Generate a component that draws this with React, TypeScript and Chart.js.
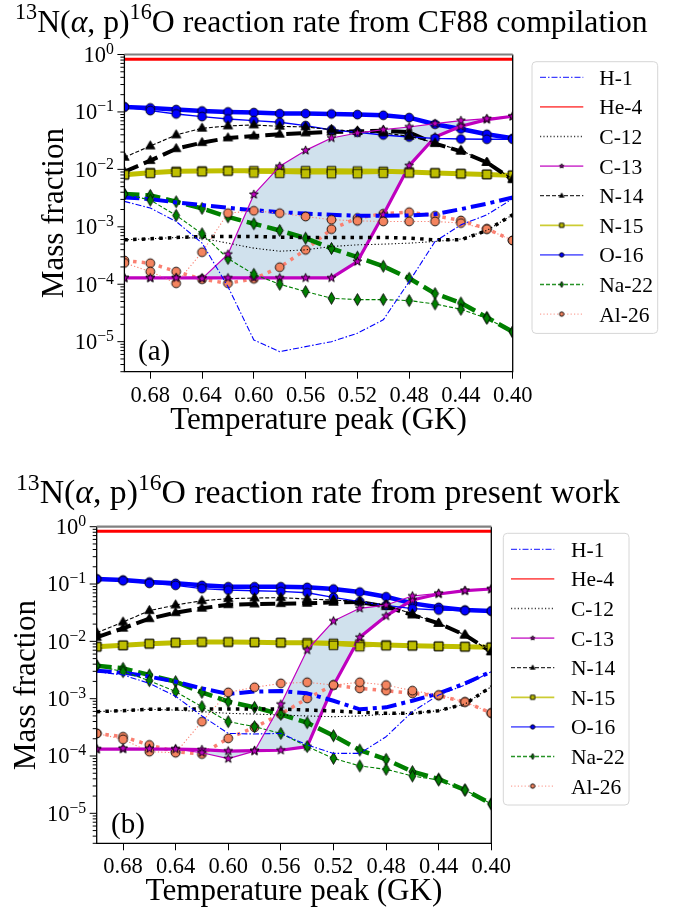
import React, { useEffect, useRef } from 'react';
import { Chart, registerables } from 'chart.js';

Chart.register(...registerables);

// ---------------- data ----------------
const temperatures = [0.70, 0.68, 0.66, 0.64, 0.62, 0.60, 0.58, 0.56, 0.54, 0.52, 0.50, 0.48, 0.46, 0.44, 0.42, 0.40];
const xTickValues = [0.68, 0.64, 0.60, 0.56, 0.52, 0.48, 0.44, 0.40];
const yTickExponents = [0, -1, -2, -3, -4, -5];
const speciesNames = ['H-1', 'He-4', 'C-12', 'C-13', 'N-14', 'N-15', 'O-16', 'Na-22', 'Al-26'];

// panel (a): CF88 rate
const a_H1_thin = [2.77e-3, 2.12e-3, 1.24e-3, 5.2e-4, 9.1e-5, 1.07e-5, 6.7e-6, 8.2e-6, 1.0e-5, 1.4e-5, 2.4e-5, 1.11e-4, 5.55e-4, 1.08e-3, 1.62e-3, 3.08e-3];
const a_H1_thick = [3.25e-3, 3.04e-3, 2.66e-3, 2.39e-3, 2.14e-3, 1.95e-3, 1.8e-3, 1.7e-3, 1.62e-3, 1.56e-3, 1.56e-3, 1.58e-3, 1.66e-3, 2.03e-3, 2.52e-3, 3.25e-3];
const a_He4_thin = [0.83, 0.83, 0.83, 0.83, 0.83, 0.83, 0.83, 0.83, 0.83, 0.83, 0.83, 0.83, 0.83, 0.83, 0.83, 0.83];
const a_He4_thick = [0.83, 0.83, 0.83, 0.83, 0.83, 0.83, 0.83, 0.83, 0.83, 0.83, 0.83, 0.83, 0.83, 0.83, 0.83, 0.83];
const a_C12_thin = [5.93e-4, 6.18e-4, 6.52e-4, 6.34e-4, 5.19e-4, 4.25e-4, 3.76e-4, 3.97e-4, 4.54e-4, 4.85e-4, 4.99e-4, 5.19e-4, 5.55e-4, 6.1e-4, 8.63e-4, 1.62e-3];
const a_C12_thick = [5.93e-4, 6.18e-4, 6.52e-4, 6.78e-4, 6.78e-4, 6.78e-4, 6.6e-4, 6.52e-4, 6.52e-4, 6.52e-4, 6.52e-4, 6.34e-4, 5.93e-4, 5.93e-4, 8.63e-4, 1.62e-3];
const a_C13_thin = [1.29e-4, 1.29e-4, 1.29e-4, 1.25e-4, 3.33e-4, 3.66e-3, 1.13e-2, 2.14e-2, 3.52e-2, 4.3e-2, 4.92e-2, 5.47e-2, 6.26e-2, 7.06e-2, 7.65e-2, 8.4e-2];
const a_C13_thick = [1.29e-4, 1.29e-4, 1.29e-4, 1.29e-4, 1.29e-4, 1.29e-4, 1.29e-4, 1.29e-4, 1.29e-4, 2.48e-4, 1.62e-3, 1.16e-2, 3.66e-2, 5.62e-2, 7.35e-2, 8.4e-2];
const a_N14_thin = [0.0162, 0.0255, 0.0397, 0.0519, 0.057, 0.0593, 0.0562, 0.0547, 0.0492, 0.046, 0.043, 0.0377, 0.0288, 0.0214, 0.0132, 0.0068];
const a_N14_thick = [0.0091, 0.0142, 0.0229, 0.0292, 0.0352, 0.0381, 0.0408, 0.043, 0.0448, 0.046, 0.0472, 0.0442, 0.0281, 0.0206, 0.0132, 0.0066];
const a_N15_thin = [0.00807, 0.00852, 0.00887, 0.0091, 0.00935, 0.00863, 0.00852, 0.0084, 0.0084, 0.0084, 0.00852, 0.00863, 0.00863, 0.0084, 0.00818, 0.00786];
const a_N15_thick = [0.00807, 0.00875, 0.00923, 0.00935, 0.00948, 0.00948, 0.00948, 0.00948, 0.00948, 0.00935, 0.00923, 0.00898, 0.00863, 0.0084, 0.00818, 0.00786];
const a_O16_thin = [0.122, 0.1055, 0.0923, 0.083, 0.0755, 0.0706, 0.066, 0.0578, 0.0485, 0.0442, 0.0397, 0.0366, 0.0347, 0.0338, 0.0334, 0.0334];
const a_O16_thick = [0.122, 0.1174, 0.1099, 0.104, 0.1, 0.0973, 0.0935, 0.0935, 0.0923, 0.0898, 0.0875, 0.0796, 0.061, 0.0505, 0.0408, 0.0347];
const a_Na22_thin = [3.71e-3, 2.92e-3, 1.58e-3, 7.55e-4, 2.8e-4, 1.49e-4, 1.0e-4, 7.45e-5, 5.7e-5, 5.4e-5, 5.4e-5, 5.19e-5, 4.54e-5, 3.66e-5, 2.55e-5, 1.48e-5];
const a_Na22_thick = [3.71e-3, 3.52e-3, 2.73e-3, 2.09e-3, 1.49e-3, 1.13e-3, 8.63e-4, 6.34e-4, 4.19e-4, 2.96e-4, 2.06e-4, 1.27e-4, 6.88e-5, 4.72e-5, 2.65e-5, 1.48e-5];
const a_Al26_thin = [2.35e-4, 1.66e-4, 1.04e-4, 3.61e-4, 1.73e-3, 1.9e-3, 1.73e-3, 1.51e-3, 1.33e-3, 1.27e-3, 1.24e-3, 1.24e-3, 1.24e-3, 1.16e-3, 9.1e-4, 5.78e-4];
const a_Al26_thick = [2.59e-4, 2.32e-4, 1.66e-4, 1.22e-4, 1.04e-4, 1.24e-4, 1.98e-4, 3.97e-4, 9.1e-4, 1.42e-3, 1.69e-3, 1.8e-3, 1.56e-3, 1.29e-3, 9.23e-4, 5.78e-4];

// panel (b): present work
const b_H1_thin = [2.96e-3, 2.59e-3, 1.85e-3, 1.1e-3, 5.0e-4, 2.48e-4, 2.42e-4, 2.48e-4, 1.56e-4, 1.11e-4, 1.11e-4, 2.17e-4, 5.93e-4, 1.16e-3, 1.73e-3, 2.96e-3];
const b_H1_thick = [3.08e-3, 2.84e-3, 2.42e-3, 1.98e-3, 1.51e-3, 1.21e-3, 1.33e-3, 1.36e-3, 1.24e-3, 9.2e-4, 6.52e-4, 7.06e-4, 9.2e-4, 1.24e-3, 1.85e-3, 2.96e-3];
const b_He4_thin = [0.83, 0.83, 0.83, 0.83, 0.83, 0.83, 0.83, 0.83, 0.83, 0.83, 0.83, 0.83, 0.83, 0.83, 0.83, 0.83];
const b_He4_thick = [0.83, 0.83, 0.83, 0.83, 0.83, 0.83, 0.83, 0.83, 0.83, 0.83, 0.83, 0.83, 0.83, 0.83, 0.83, 0.83];
const b_C12_thin = [5.93e-4, 6.18e-4, 6.52e-4, 6.34e-4, 5.93e-4, 5.55e-4, 5.4e-4, 5.19e-4, 4.99e-4, 4.85e-4, 4.99e-4, 5.33e-4, 5.55e-4, 6.18e-4, 8.07e-4, 1.62e-3];
const b_C12_thick = [5.93e-4, 6.18e-4, 6.52e-4, 6.6e-4, 6.6e-4, 6.6e-4, 6.6e-4, 6.6e-4, 6.34e-4, 6.1e-4, 5.78e-4, 5.55e-4, 5.55e-4, 6.18e-4, 8.07e-4, 1.62e-3];
const b_C13_thin = [1.32e-4, 1.36e-4, 1.34e-4, 1.32e-4, 1.14e-4, 8.98e-5, 1.22e-4, 8.0e-4, 7.06e-3, 2.26e-2, 3.77e-2, 4.3e-2, 6.18e-2, 6.87e-2, 7.65e-2, 8.18e-2];
const b_C13_thick = [1.32e-4, 1.32e-4, 1.32e-4, 1.32e-4, 1.29e-4, 1.22e-4, 1.24e-4, 1.26e-4, 1.46e-4, 1.7e-3, 1.175e-2, 2.77e-2, 5.26e-2, 6.7e-2, 7.65e-2, 8.18e-2];
const b_N14_thin = [0.01416, 0.0217, 0.0343, 0.043, 0.0512, 0.0555, 0.057, 0.0578, 0.0547, 0.0526, 0.0492, 0.043, 0.03, 0.0206, 0.0129, 0.0066];
const b_N14_thick = [0.01175, 0.0169, 0.0248, 0.0316, 0.0377, 0.0436, 0.0448, 0.0454, 0.046, 0.0479, 0.0485, 0.0403, 0.0288, 0.0206, 0.0129, 0.0066];
const b_N15_thin = [0.00807, 0.00852, 0.0091, 0.00948, 0.00973, 0.00973, 0.0096, 0.00948, 0.00898, 0.00852, 0.00807, 0.0084, 0.0084, 0.00818, 0.00807, 0.00786];
const b_N15_thick = [0.00807, 0.00852, 0.0091, 0.00948, 0.00973, 0.00973, 0.0096, 0.00948, 0.00948, 0.00923, 0.00898, 0.00863, 0.0084, 0.00818, 0.00807, 0.00786];
const b_O16_thin = [0.1222, 0.1143, 0.1027, 0.0948, 0.083, 0.0786, 0.0765, 0.0745, 0.0706, 0.0585, 0.0492, 0.0425, 0.0372, 0.0352, 0.0343, 0.0338];
const b_O16_thick = [0.1222, 0.1174, 0.1084, 0.1027, 0.0948, 0.0898, 0.0898, 0.0898, 0.0875, 0.0818, 0.0725, 0.0601, 0.046, 0.0392, 0.0352, 0.0338];
const b_Na22_thin = [3.76e-3, 2.96e-3, 2.06e-3, 1.33e-3, 7.25e-4, 3.97e-4, 3.25e-4, 2.48e-4, 1.46e-4, 9.1e-5, 6.7e-5, 5.85e-5, 4.48e-5, 3.81e-5, 2.55e-5, 1.46e-5];
const b_Na22_thick = [3.76e-3, 3.38e-3, 2.59e-3, 1.98e-3, 1.29e-3, 8.87e-4, 7.06e-4, 5.33e-4, 3.81e-4, 2.26e-4, 1.27e-4, 8.75e-5, 5.33e-5, 3.97e-5, 2.55e-5, 1.46e-5];
const b_Al26_thin = [2.48e-4, 1.95e-4, 1.19e-4, 1.14e-4, 3.97e-4, 1.29e-3, 1.58e-3, 1.85e-3, 1.93e-3, 1.73e-3, 1.93e-3, 1.73e-3, 1.38e-3, 1.16e-3, 8.75e-4, 5.62e-4];
const b_Al26_thick = [2.48e-4, 2.17e-4, 1.56e-4, 1.19e-4, 1.08e-4, 2.03e-4, 3.16e-4, 5.4e-4, 1.01e-3, 1.73e-3, 1.51e-3, 1.38e-3, 1.24e-3, 1.13e-3, 8.75e-4, 5.62e-4];

const seriesA: Record<string, number[][]> = {
  'H-1': [a_H1_thin, a_H1_thick], 'He-4': [a_He4_thin, a_He4_thick], 'C-12': [a_C12_thin, a_C12_thick],
  'C-13': [a_C13_thin, a_C13_thick], 'N-14': [a_N14_thin, a_N14_thick], 'N-15': [a_N15_thin, a_N15_thick],
  'O-16': [a_O16_thin, a_O16_thick], 'Na-22': [a_Na22_thin, a_Na22_thick], 'Al-26': [a_Al26_thin, a_Al26_thick],
};
const seriesB: Record<string, number[][]> = {
  'H-1': [b_H1_thin, b_H1_thick], 'He-4': [b_He4_thin, b_He4_thick], 'C-12': [b_C12_thin, b_C12_thick],
  'C-13': [b_C13_thin, b_C13_thick], 'N-14': [b_N14_thin, b_N14_thick], 'N-15': [b_N15_thin, b_N15_thick],
  'O-16': [b_O16_thin, b_O16_thick], 'Na-22': [b_Na22_thin, b_Na22_thick], 'Al-26': [b_Al26_thin, b_Al26_thick],
};

// ---------------- styles ----------------
const FONT = '"Liberation Serif", "DejaVu Serif", serif';
const W = 678;

type Sty = { color: string; legend: string; marker: string | null; mfill?: string; thinW: number; thickW: number; thinDash: number[]; thickDash: number[] };
const STYLES: Record<string, Sty> = {
  'H-1': { color: '#0000ff', legend: 'rgba(0,0,255,0.75)', marker: null, thinW: 1.1, thickW: 4, thinDash: [6, 2, 1.5, 2], thickDash: [15, 5, 4, 5] },
  'He-4': { color: '#ff0000', legend: 'rgba(255,0,0,0.65)', marker: null, thinW: 1.2, thickW: 3, thinDash: [], thickDash: [] },
  'C-12': { color: '#000000', legend: 'rgba(0,0,0,0.75)', marker: null, thinW: 1.1, thickW: 3.5, thinDash: [1.2, 2.2], thickDash: [3.5, 5.2] },
  'C-13': { color: '#bf00bf', legend: 'rgba(191,0,191,0.7)', marker: 'star', mfill: '#bf00bf', thinW: 1.2, thickW: 3.2, thinDash: [], thickDash: [] },
  'N-14': { color: '#000000', legend: 'rgba(0,0,0,0.8)', marker: 'triangle', mfill: '#000000', thinW: 1.1, thickW: 4, thinDash: [4, 2], thickDash: [15, 6] },
  'N-15': { color: '#bfbf00', legend: 'rgba(191,191,0,0.8)', marker: 'square', mfill: '#bfbf00', thinW: 1.4, thickW: 5, thinDash: [], thickDash: [] },
  'O-16': { color: '#0000ff', legend: 'rgba(0,0,255,0.6)', marker: 'circle', mfill: '#0000ff', thinW: 1.4, thickW: 4.5, thinDash: [], thickDash: [] },
  'Na-22': { color: '#008000', legend: 'rgba(0,128,0,0.85)', marker: 'diamond', mfill: '#008000', thinW: 1.1, thickW: 4.5, thinDash: [4, 2], thickDash: [15, 6] },
  'Al-26': { color: '#fa8072', legend: 'rgba(250,128,114,0.7)', marker: 'circle', mfill: '#f4845f', thinW: 1.1, thickW: 3.5, thinDash: [1.2, 2.2], thickDash: [3.5, 5.2] },
};

const markerCache: Record<string, HTMLCanvasElement> = {};
function makeMarker(kind: string, fill: string, s: number): HTMLCanvasElement {
  const key = kind + fill + s;
  if (markerCache[key]) return markerCache[key];
  const size = Math.ceil(15 * s) + 2;
  const c = document.createElement('canvas');
  c.width = size; c.height = size;
  const g = c.getContext('2d')!;
  g.translate(size / 2, size / 2);
  g.fillStyle = fill; g.strokeStyle = '#000'; g.lineWidth = 0.9;
  g.beginPath();
  if (kind === 'circle') {
    g.arc(0, 0, 4.4 * s, 0, Math.PI * 2);
  } else if (kind === 'square') {
    g.rect(-4.3 * s, -4.3 * s, 8.6 * s, 8.6 * s);
  } else if (kind === 'triangle') {
    const r = 5.2 * s;
    g.moveTo(0, -r); g.lineTo(r * 0.9, r * 0.55); g.lineTo(-r * 0.9, r * 0.55); g.closePath();
  } else if (kind === 'star') {
    const R = 4.6 * s, r = 1.9 * s;
    for (let i = 0; i < 10; i++) {
      const ang = -Math.PI / 2 + (i * Math.PI) / 5;
      const rr = i % 2 === 0 ? R : r;
      if (i === 0) g.moveTo(rr * Math.cos(ang), rr * Math.sin(ang)); else g.lineTo(rr * Math.cos(ang), rr * Math.sin(ang));
    }
    g.closePath();
  } else if (kind === 'diamond') {
    g.moveTo(0, -6 * s); g.lineTo(3.4 * s, 0); g.lineTo(0, 6 * s); g.lineTo(-3.4 * s, 0); g.closePath();
  }
  g.fill(); g.stroke();
  markerCache[key] = c;
  return c;
}

type Seg = { t: string; sup?: boolean; it?: boolean };
function segFont(s: Seg, size: number) {
  return `${s.it ? 'italic ' : ''}${s.sup ? size * 0.7 : size}px ${FONT}`;
}
function segsWidth(ctx: CanvasRenderingContext2D, segs: Seg[], size: number) {
  let w = 0;
  for (const s of segs) { ctx.font = segFont(s, size); w += ctx.measureText(s.t).width; }
  return w;
}
function drawSegs(ctx: CanvasRenderingContext2D, segs: Seg[], x: number, base: number, size: number) {
  ctx.textAlign = 'left'; ctx.textBaseline = 'alphabetic';
  for (const s of segs) {
    ctx.font = segFont(s, size);
    ctx.fillText(s.t, x, base - (s.sup ? 0.4 * size : 0));
    x += ctx.measureText(s.t).width;
  }
}

const decorPlugin = {
  id: 'panelDecor',
  afterDraw(chart: any, _a: any, o: any) {
    const ctx: CanvasRenderingContext2D = chart.ctx;
    const { left, right, top, bottom } = chart.chartArea;
    const ys = chart.scales.y;
    const xs = chart.scales.x;
    ctx.save();
    ctx.fillStyle = '#000';
    // frame
    ctx.setLineDash([]);
    ctx.strokeStyle = '#000'; ctx.lineWidth = 1.3;
    ctx.beginPath();
    ctx.moveTo(left, top); ctx.lineTo(left, bottom); ctx.lineTo(right, bottom); ctx.lineTo(right, top);
    ctx.stroke();
    ctx.strokeStyle = '#808080'; ctx.lineWidth = 2.2;
    ctx.beginPath(); ctx.moveTo(left, top); ctx.lineTo(right, top); ctx.stroke();
    // y ticks (major + minor)
    ctx.strokeStyle = '#000'; ctx.lineWidth = 1;
    for (let e = -6; e <= 0; e++) {
      for (let m = 1; m <= 9; m++) {
        const v = m * Math.pow(10, e);
        if (v < ys.min * 0.999 || v > ys.max * 1.001) continue;
        const y = ys.getPixelForValue(v);
        const len = m === 1 ? 7 : 4;
        ctx.beginPath(); ctx.moveTo(left - len, y); ctx.lineTo(left, y); ctx.stroke();
      }
    }
    const ts = 22.5;
    // x tick labels
    ctx.font = `${ts}px ${FONT}`;
    ctx.textAlign = 'center'; ctx.textBaseline = 'alphabetic';
    for (const v of xTickValues) {
      const x = xs.getPixelForValue(v);
      ctx.fillText(v.toFixed(2), x, bottom + 30);
    }
    // y tick labels
    for (const e of yTickExponents) {
      const y = ys.getPixelForValue(Math.pow(10, e));
      const segs: Seg[] = [{ t: '10' }, { t: e === 0 ? '0' : '\u2212' + String(-e), sup: true }];
      const w = segsWidth(ctx, segs, ts);
      ctx.textAlign = 'left';
      ctx.font = `${ts}px ${FONT}`;
      const base = y + 0.33 * ts;
      ctx.fillText('10', left - 10.5 - w, base);
      const w10 = ctx.measureText('10').width;
      ctx.font = `${ts * 0.7}px ${FONT}`;
      ctx.fillText(segs[1].t, left - 10.5 - w + w10, base - 0.36 * ts);
    }
    // title
    const tSize = 25 * o.titleWidth / segsWidth(ctx, o.title, 25);
    drawSegs(ctx, o.title, o.titleX, o.titleBase, tSize);
    // axis labels
    const xl: Seg[] = [{ t: 'Temperature peak (GK)' }];
    const lSize = 27 * 297 / segsWidth(ctx, xl, 27);
    ctx.font = `${lSize}px ${FONT}`;
    ctx.textAlign = 'center'; ctx.textBaseline = 'alphabetic';
    ctx.fillText('Temperature peak (GK)', (left + right) / 2, o.xLabelBase);
    ctx.save();
    ctx.translate(o.yLabelX, (top + bottom) / 2);
    ctx.rotate(-Math.PI / 2);
    ctx.fillText('Mass fraction', 0, 0);
    ctx.restore();
    // panel tag
    ctx.font = `29px ${FONT}`;
    ctx.textAlign = 'left';
    ctx.fillText(o.tag, o.tagX, o.tagBase);
    // legend
    const L = o.legend;
    ctx.beginPath();
    const r = 4;
    ctx.moveTo(L.x0 + r, L.y0); ctx.lineTo(L.x1 - r, L.y0); ctx.quadraticCurveTo(L.x1, L.y0, L.x1, L.y0 + r);
    ctx.lineTo(L.x1, L.y1 - r); ctx.quadraticCurveTo(L.x1, L.y1, L.x1 - r, L.y1);
    ctx.lineTo(L.x0 + r, L.y1); ctx.quadraticCurveTo(L.x0, L.y1, L.x0, L.y1 - r);
    ctx.lineTo(L.x0, L.y0 + r); ctx.quadraticCurveTo(L.x0, L.y0, L.x0 + r, L.y0);
    ctx.closePath();
    ctx.fillStyle = 'rgba(255,255,255,0.85)'; ctx.fill();
    ctx.strokeStyle = '#d6d6d6'; ctx.lineWidth = 1; ctx.stroke();
    speciesNames.forEach((name, i) => {
      const st = STYLES[name];
      const y = L.first + L.step * i;
      ctx.strokeStyle = st.legend; ctx.lineWidth = name === 'He-4' || name === 'O-16' || name === 'C-13' || name === 'N-15' ? 1.8 : 1.3;
      ctx.setLineDash(st.thinDash);
      ctx.beginPath(); ctx.moveTo(L.lx0, y); ctx.lineTo(L.lx1, y); ctx.stroke();
      ctx.setLineDash([]);
      if (st.marker) {
        const img = makeMarker(st.marker, st.mfill!, 0.5);
        ctx.drawImage(img, (L.lx0 + L.lx1) / 2 - img.width / 2, y - img.height / 2);
      }
      ctx.fillStyle = '#000';
      ctx.font = `21.5px ${FONT}`;
      ctx.textAlign = 'left'; ctx.textBaseline = 'alphabetic';
      ctx.fillText(name, L.tx, y + 7.5);
    });
    ctx.restore();
  },
};

function buildDatasets(series: Record<string, number[][]>) {
  const thin: any[] = [];
  const thick: any[] = [];
  speciesNames.forEach((name) => {
    const st = STYLES[name];
    const [tv, kv] = series[name];
    const marker = st.marker ? makeMarker(st.marker, st.mfill!, 1) : false;
    const common = {
      borderColor: st.color,
      pointStyle: marker,
      pointRadius: marker ? 4 : 0,
      pointHoverRadius: marker ? 4 : 0,
      tension: 0,
      borderCapStyle: 'butt',
      borderJoinStyle: 'round',
    };
    thin.push({ ...common, label: name, data: temperatures.map((t, i) => ({ x: t, y: tv[i] })), borderWidth: st.thinW, borderDash: st.thinDash, fill: false });
    thick.push({ ...common, label: name + ' (thick)', data: temperatures.map((t, i) => ({ x: t, y: kv[i] })), borderWidth: st.thickW, borderDash: st.thickDash, fill: false });
  });
  const c13 = speciesNames.indexOf('C-13');
  thick[c13].fill = c13;
  thick[c13].backgroundColor = '#d0e1ed';
  return [...thin, ...thick];
}

type Cfg = {
  height: number; top: number;
  plot: { left: number; right: number; top: number; bottom: number };
  title: Seg[]; titleX: number; titleWidth: number; titleBase: number;
  yLabelX: number; xLabelBase: number; tag: string; tagX: number; tagBase: number;
  legend: any;
};

function Panel({ cfg, series }: { cfg: Cfg; series: Record<string, number[][]> }) {
  const ref = useRef<HTMLCanvasElement>(null);
  useEffect(() => {
    const p = cfg.plot;
    const chart = new Chart(ref.current!, {
      type: 'line',
      data: { datasets: buildDatasets(series) },
      options: {
        responsive: false,
        animation: false,
        devicePixelRatio: 1,
        layout: { padding: { left: 0, top: p.top, right: W - p.right, bottom: 0 } },
        plugins: {
          legend: { display: false },
          tooltip: { enabled: false },
          title: { display: false },
          filler: { drawTime: 'beforeDatasetsDraw' },
          panelDecor: cfg,
        } as any,
        scales: {
          x: {
            type: 'linear', min: 0.4, max: 0.7, reverse: true,
            afterBuildTicks: (s: any) => { s.ticks = xTickValues.map((v) => ({ value: v })); },
            afterFit: (s: any) => { s.height = cfg.height - p.bottom; },
            ticks: { display: false },
            grid: { display: true, drawOnChartArea: false, drawTicks: true, tickLength: 7, tickColor: '#000', tickWidth: 1 },
            border: { display: false },
          },
          y: {
            type: 'logarithmic', min: 3e-6, max: 1,
            afterBuildTicks: (s: any) => { s.ticks = yTickExponents.map((e) => ({ value: Math.pow(10, e) })); },
            afterFit: (s: any) => { s.width = p.left; },
            ticks: { display: false },
            grid: { display: false },
            border: { display: false },
          },
        } as any,
      },
      plugins: [decorPlugin],
    } as any);
    return () => chart.destroy();
  }, []);
  return (
    <canvas ref={ref} width={W} height={cfg.height}
      style={{ position: 'absolute', left: 0, top: cfg.top, width: W, height: cfg.height, display: 'block' }} />
  );
}

const titleSegs = (rest: string): Seg[] => [
  { t: '13', sup: true }, { t: 'N(' }, { t: '\u03b1', it: true }, { t: ', p)' }, { t: '16', sup: true }, { t: 'O ' + rest },
];

const cfgA: Cfg = {
  height: 455, top: 0,
  plot: { left: 124.4, right: 512.7, top: 54.5, bottom: 371.7 },
  title: titleSegs('reaction rate from CF88 compilation'), titleX: 15, titleWidth: 633, titleBase: 32,
  yLabelX: 63, xLabelBase: 429, tag: '(a)', tagX: 138, tagBase: 360,
  legend: { x0: 532, x1: 657.7, y0: 61.7, y1: 333.4, first: 77.3, step: 29.6, lx0: 540, lx1: 583.3, tx: 599.3 },
};
const cfgB: Cfg = {
  height: 456, top: 455,
  plot: { left: 96.7, right: 491.3, top: 71.7, bottom: 388.3 },
  title: titleSegs('reaction rate from present work'), titleX: 16, titleWidth: 604, titleBase: 48.3,
  yLabelX: 35, xLabelBase: 445, tag: '(b)', tagX: 111, tagBase: 378,
  legend: { x0: 503.3, x1: 629, y0: 78.3, y1: 350, first: 94.3, step: 29.6, lx0: 511, lx1: 554.3, tx: 571 },
};

export default function App() {
  return (
    <div style={{ position: 'absolute', left: 0, top: 0, width: W, height: 911, background: '#fff' }}>
      <Panel cfg={cfgA} series={seriesA} />
      <Panel cfg={cfgB} series={seriesB} />
    </div>
  );
}
